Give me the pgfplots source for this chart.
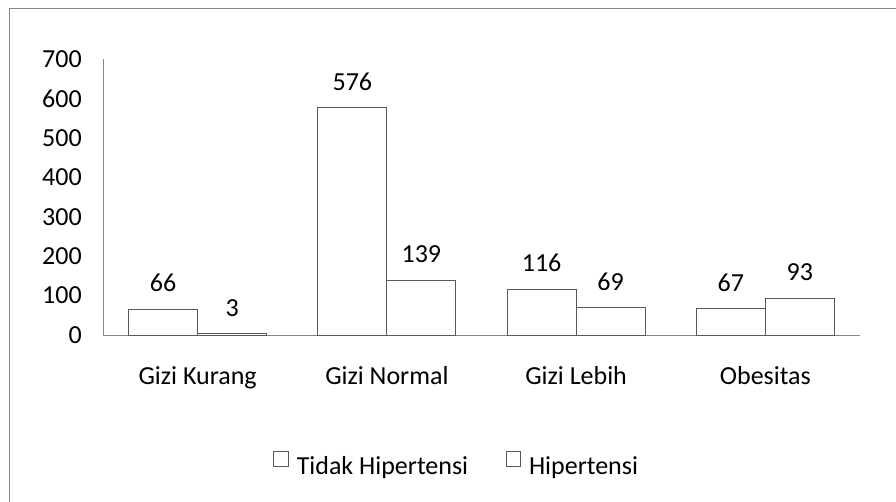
\documentclass[border=0pt]{standalone}
\usepackage{fontspec}
\setmainfont{Carlito}
\usepackage{pgfplots}
\pgfplotsset{compat=1.18}
\definecolor{axgray}{HTML}{868686}
\definecolor{bargray}{HTML}{595959}
\newcommand\bigf{\fontsize{19.5}{23}\selectfont}
\begin{document}
\begin{tikzpicture}
\useasboundingbox (0,0) rectangle (672pt,375.75pt);
\draw[axgray, line width=0.7pt] (7pt,-5pt) -- (7pt,369.5pt) -- (680pt,369.5pt);
\begin{axis}[
  at={(77.25pt,124.5pt)}, anchor=south west,
  scale only axis, width=567.75pt, height=207pt,
  xmin=-0.5, xmax=3.5, ymin=0, ymax=700,
  axis x line=bottom, axis y line=left,
  axis line style={axgray, line width=0.7pt, -},
  xtick={0,1,2,3},
  xticklabels={Gizi Kurang, Gizi Normal, Gizi Lebih, Obesitas},
  ytick={0,100,...,700},
  major tick length=0pt,
  /pgf/number format/assume math mode=true,
  every tick label/.append style={font=\bigf},
  xticklabel style={anchor=base, inner sep=0pt, yshift=-36.75pt},
  yticklabel style={anchor=east, inner sep=0pt, xshift=-15.75pt},
  ybar=0pt, bar width=51.75pt,
  nodes near coords,
  every node near coord/.append style={font=\bigf, anchor=center, inner sep=0pt, yshift=19.5pt, black},
  legend style={at={(0.4676,-0.471)}, anchor=center, draw=none, fill=none,
    legend columns=2, font=\bigf,
    /tikz/every even column/.append style={column sep=26pt},
    /tikz/every odd column/.append style={column sep=4pt},
    legend cell align=left},
  legend image code/.code={\draw[bargray, fill=white, line width=0.6pt] (0pt,0pt) rectangle (11pt,11pt);},
]
\addplot[draw=bargray, fill=white, line width=0.7pt] coordinates {(0,66) (1,576) (2,116) (3,67)};
\addplot[draw=bargray, fill=white, line width=0.7pt] coordinates {(0,3) (1,139) (2,69) (3,93)};
\legend{Tidak Hipertensi, Hipertensi}
\end{axis}
\end{tikzpicture}
\end{document}
